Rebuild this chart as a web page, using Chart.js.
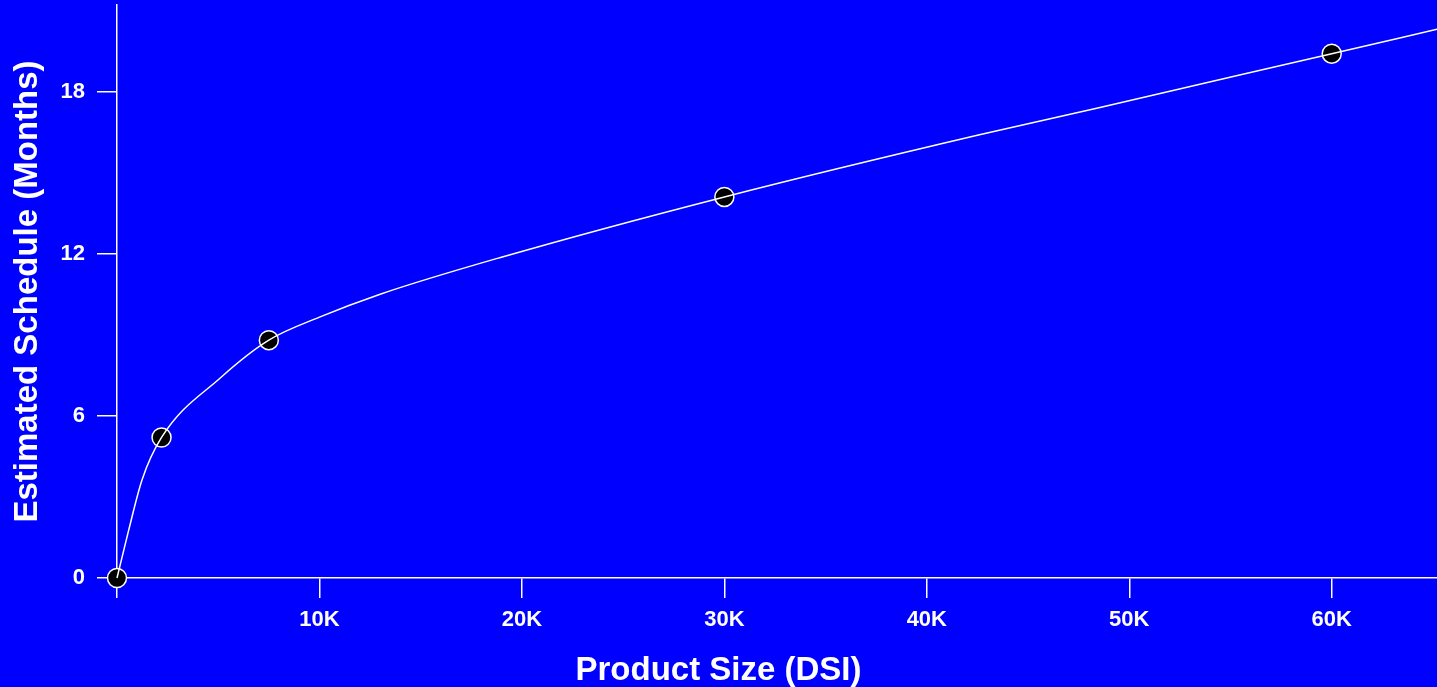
<!DOCTYPE html>
<html>
<head>
<meta charset="utf-8">
<script src="https://cdn.jsdelivr.net/npm/chart.js@4.4.1/dist/chart.umd.min.js"></script>
<style>
    html, body { margin: 0; padding: 0; background: #0000ff; overflow: hidden; }
    #wrap { width: 1437px; height: 687px; position: relative; }
</style>
</head>
<body>
<div id="wrap"><canvas id="schedule-chart"></canvas></div>
<script>
// estimated points (product size in DSI, schedule in months)
const pointSizes = [0, 2200, 7500, 30000, 60000];
const pointMonths = [0, 5.2, 8.8, 14.1, 19.4];

// fitted curve
const curveSizes = [0, 580, 1235, 2200, 5100, 7500, 10000, 13000, 18900, 30000, 42600, 48500, 60000, 65200];
const curveMonths = [0, 1.78, 3.63, 5.2, 7.4, 8.8, 9.65, 10.5, 11.85, 14.1, 16.4, 17.4, 19.4, 20.3];

const xTickValues = [0, 10000, 20000, 30000, 40000, 50000, 60000];
const yTickValues = [0, 6, 12, 18];

const FONT = "'Liberation Sans', Arial, sans-serif";

const toXY = (xs, ys) => xs.map((x, i) => ({ x: x, y: ys[i] }));

const ctx = document.getElementById('schedule-chart');
new Chart(ctx, {
    type: 'scatter',
    data: {
        datasets: [
            {
                label: 'Curve',
                type: 'line',
                data: toXY(curveSizes, curveMonths),
                borderColor: '#ffffff',
                borderWidth: 1.5,
                pointRadius: 0,
                cubicInterpolationMode: 'monotone',
                fill: false,
                clip: false
            },
            {
                label: 'Estimates',
                data: toXY(pointSizes, pointMonths),
                backgroundColor: '#000000',
                borderColor: '#ffffff',
                borderWidth: 1.5,
                pointRadius: 9.5,
                pointHoverRadius: 9.5,
                clip: false
            }
        ]
    },
    options: {
        responsive: true,
        maintainAspectRatio: false,
        animation: false,
        layout: { autoPadding: false, padding: { top: 5, right: 0, left: 0, bottom: 0 } },
        plugins: {
            legend: { display: false },
            tooltip: { enabled: false },
            title: {
                display: true,
                position: 'bottom',
                text: 'Product Size (DSI)',
                color: '#ffffff',
                font: { family: FONT, size: 33, weight: 'bold', lineHeight: 1.0 },
                padding: { top: 0, bottom: 0 }
            }
        },
        scales: {
            x: {
                type: 'linear',
                min: 0,
                max: 65200,
                z: 1,
                afterBuildTicks: s => { s.ticks = xTickValues.map(v => ({ value: v })); },
                afterFit: s => { s.height = 76; s.paddingLeft = 0; s.paddingRight = 0; },
                grid: { drawOnChartArea: false, drawTicks: true, tickLength: 20, color: '#ffffff', lineWidth: 1.5 },
                border: { color: '#ffffff', width: 1.5 },
                ticks: {
                    color: '#ffffff',
                    padding: 9,
                    maxRotation: 0,
                    font: { family: FONT, size: 22, weight: 'bold' },
                    callback: v => v === 0 ? '' : (v / 1000) + 'K'
                }
            },
            y: {
                type: 'linear',
                min: 0,
                max: 21.2,
                z: 1,
                afterBuildTicks: s => { s.ticks = yTickValues.map(v => ({ value: v })); },
                afterFit: s => { s.width = 117; s.paddingTop = 0; s.paddingBottom = 0; },
                grid: { drawOnChartArea: false, drawTicks: true, tickLength: 20, color: '#ffffff', lineWidth: 1.5 },
                border: { color: '#ffffff', width: 1.5 },
                ticks: {
                    color: '#ffffff',
                    padding: 12,
                    font: { family: FONT, size: 22, weight: 'bold' }
                },
                title: {
                    display: true,
                    text: 'Estimated Schedule (Months)',
                    color: '#ffffff',
                    font: { family: FONT, size: 33, weight: 'bold' },
                    padding: { top: 8, bottom: 0 }
                }
            }
        }
    }
});
</script>
</body>
</html>
